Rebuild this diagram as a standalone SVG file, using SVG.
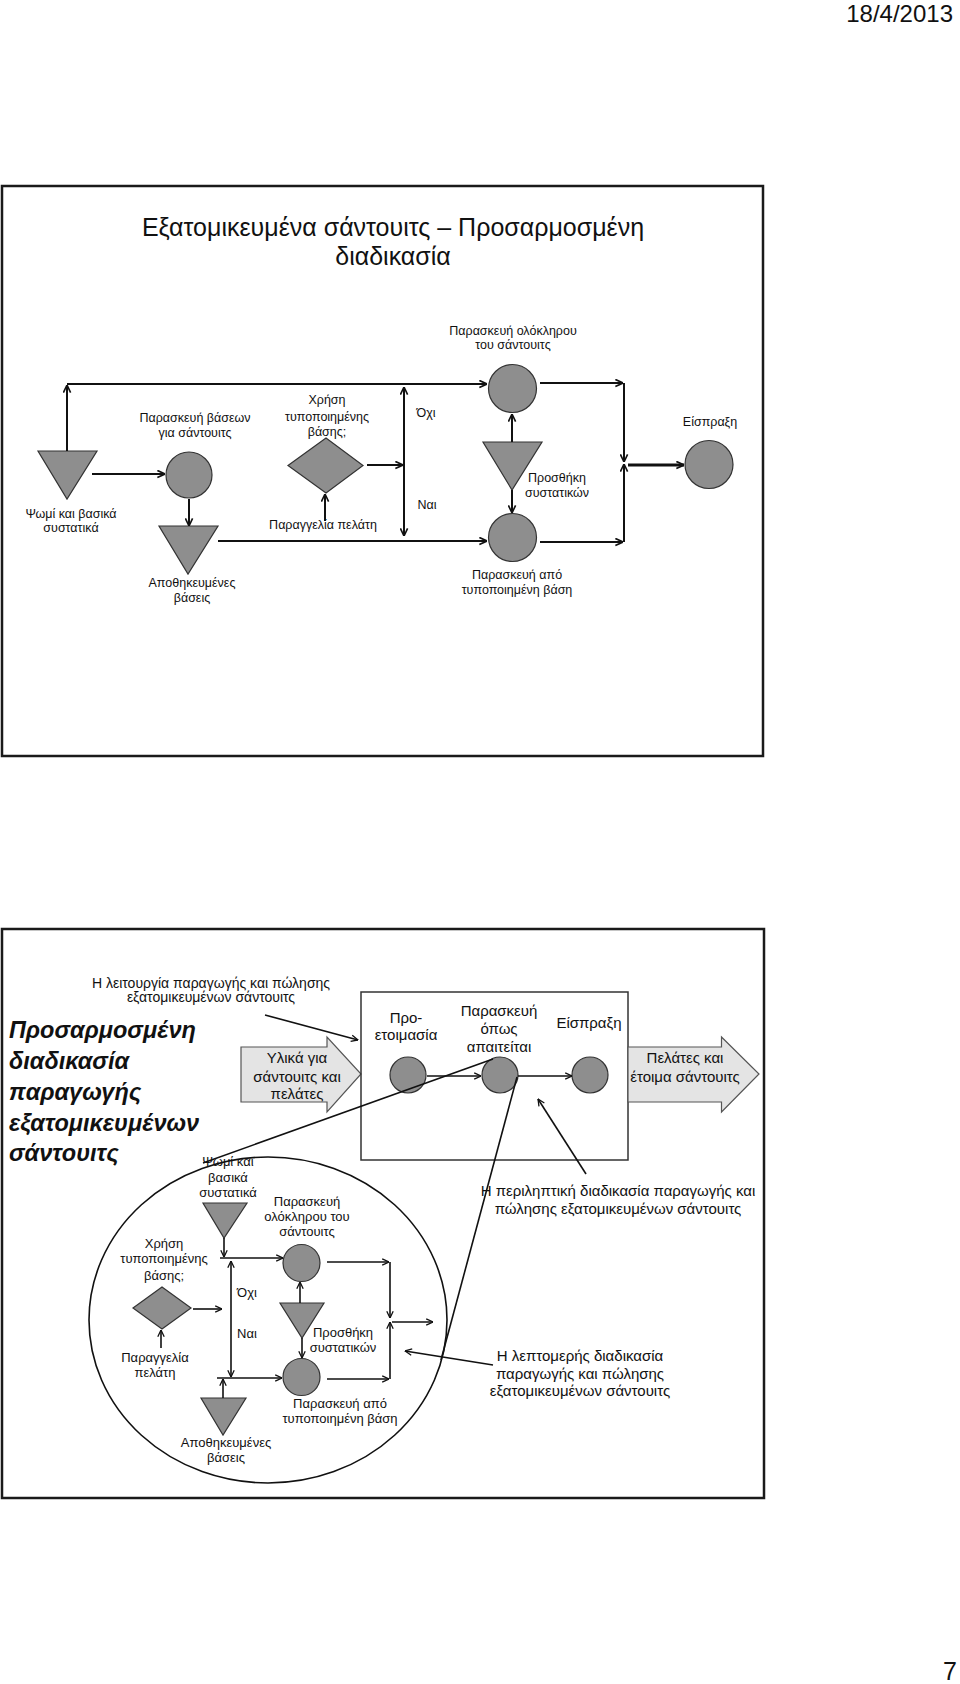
<svg xmlns="http://www.w3.org/2000/svg" width="960" height="1684" viewBox="0 0 960 1684">
<style>
.frame{fill:none;stroke:#1a1a1a;stroke-width:2.5}
.sh{fill:#8e8e8e;stroke:#333;stroke-width:1.2}
.ln{fill:none;stroke:#111;stroke-width:2;marker-end:url(#ar)}
.lb{fill:none;stroke:#111;stroke-width:1.6;marker-end:url(#ab)}
.plain{fill:none;stroke:#111;stroke-width:1.6}
.blk{fill:#e4e4e4;stroke:#555;stroke-width:1.2}
.t{font-family:"Liberation Sans",Arial,sans-serif;font-size:13px;fill:#111;text-anchor:middle;dominant-baseline:central}
.s1{font-size:12.5px}
.t15{font-size:15px}
.t14{font-size:14px}
.ti{font-family:"Liberation Sans",Arial,sans-serif;font-size:23.5px;font-weight:bold;font-style:italic;fill:#111;dominant-baseline:central}
.title{font-family:"Liberation Sans",Arial,sans-serif;font-size:25px;fill:#111;text-anchor:middle;dominant-baseline:central}
</style>
<defs>
<marker id="ar" viewBox="0 0 10 10" refX="9.5" refY="5" markerWidth="9" markerHeight="9" markerUnits="userSpaceOnUse" orient="auto-start-reverse"><path d="M1,1 L9.5,5 L1,9" fill="none" stroke="#111" stroke-width="1.8"/></marker>
<marker id="ab" viewBox="0 0 10 10" refX="9.5" refY="5" markerWidth="8" markerHeight="8" markerUnits="userSpaceOnUse" orient="auto-start-reverse"><path d="M1,1 L9.5,5 L1,9" fill="none" stroke="#111" stroke-width="1.6"/></marker>
</defs>
<rect width="960" height="1684" fill="#fff"/>
<text x="953" y="22" font-family="Liberation Sans,Arial,sans-serif" font-size="24" text-anchor="end" fill="#111">18/4/2013</text>
<text x="957" y="1680" font-family="Liberation Sans,Arial,sans-serif" font-size="25" text-anchor="end" fill="#111">7</text>

<!-- ===== Slide 1 ===== -->
<g id="slide1">
<rect class="frame" x="2" y="186" width="761" height="570"/>
<text class="title" x="393" y="227">Εξατομικευμένα σάντουιτς – Προσαρμοσμένη</text>
<text class="title" x="393" y="256">διαδικασία</text>
</g>
<g id="s1-bread"><polygon class="sh" points="38,451 97,451 67,499"/><text class="t s1" x="71" y="514">Ψωμί και βασικά</text><text class="t s1" x="71" y="528">συστατικά</text></g>
<g id="s1-bases"><circle class="sh" cx="189" cy="475" r="23"/><text class="t s1" x="195" y="418">Παρασκευή βάσεων</text><text class="t s1" x="195" y="433">για σάντουιτς</text></g>
<g id="s1-stored"><polygon class="sh" points="159,526 218,526 188,574"/><text class="t s1" x="192" y="583">Αποθηκευμένες</text><text class="t s1" x="192" y="598">βάσεις</text></g>
<g id="s1-decision"><polygon class="sh" points="288,465.5 326,438 363,465.5 326,493"/><text class="t s1" x="327" y="400">Χρήση</text><text class="t s1" x="327" y="417">τυποποιημένης</text><text class="t s1" x="327" y="432">βάσης;</text></g>
<g id="s1-order"><text class="t s1" x="323" y="525">Παραγγελία πελάτη</text></g>
<g id="s1-labels"><text class="t s1" x="426" y="413">Όχι</text><text class="t s1" x="427" y="505">Ναι</text></g>
<g id="s1-whole"><circle class="sh" cx="512.5" cy="388.5" r="24"/><text class="t s1" x="513" y="331">Παρασκευή ολόκληρου</text><text class="t s1" x="513" y="345">του σάντουιτς</text></g>
<g id="s1-add"><polygon class="sh" points="483,442 542,442 512,490"/><text class="t s1" x="557" y="478">Προσθήκη</text><text class="t s1" x="557" y="493">συστατικών</text></g>
<g id="s1-std"><circle class="sh" cx="512.5" cy="537.5" r="24"/><text class="t s1" x="517" y="575">Παρασκευή από</text><text class="t s1" x="517" y="590">τυποποιημένη βάση</text></g>
<g id="s1-pay"><circle class="sh" cx="709" cy="464.5" r="24"/><text class="t s1" x="710" y="422">Είσπραξη</text></g>
<g id="s1-connectors">
<path class="ln" d="M67,451 V385"/>
<path class="ln" d="M67,384 H487"/>
<path class="ln" d="M92,474 H165"/>
<path class="ln" d="M189,499 V526"/>
<path class="ln" d="M218,541 H487"/>
<path class="ln" d="M367,465 H403"/>
<path class="ln" d="M325,521 V494"/>
<path class="ln" d="M404,387 V536" style="marker-start:url(#ar)"/>
<path class="ln" d="M540,383 H623"/>
<path class="ln" d="M540,542 H623"/>
<path class="ln" d="M624,383 V462"/>
<path class="ln" d="M624,542 V464"/>
<path class="ln" d="M628,465 H684" style="stroke-width:3"/>
<path class="ln" d="M512,442 V414"/>
<path class="ln" d="M512,490 V513"/>
</g>

<!-- ===== Slide 2 ===== -->
<g id="slide2">
<rect class="frame" x="2" y="929" width="762" height="569"/>
<text class="ti" x="9" y="1030">Προσαρμοσμένη</text>
<text class="ti" x="9" y="1061">διαδικασία</text>
<text class="ti" x="9" y="1092">παραγωγής</text>
<text class="ti" x="9" y="1123">εξατομικευμένων</text>
<text class="ti" x="9" y="1153">σάντουιτς</text>
</g>
<g id="s2-caption-top"><text class="t t14" x="211" y="983">Η λειτουργία παραγωγής και πώλησης</text><text class="t t14" x="211" y="997">εξατομικευμένων σάντουιτς</text></g>
<g id="s2-inputs"><path class="blk" d="M241,1047 H327 V1037 L361,1074 L327,1112 V1102 H241 Z"/><text class="t t15" x="297" y="1057">Υλικά για</text><text class="t t15" x="297" y="1076">σάντουιτς και</text><text class="t t15" x="297" y="1093">πελάτες</text></g>
<g id="s2-box"><rect x="361" y="992" width="267" height="168" fill="none" stroke="#333" stroke-width="1.5"/></g>
<g id="s2-prep"><circle class="sh" cx="408" cy="1075" r="18"/><text class="t t15" x="406" y="1017">Προ-</text><text class="t t15" x="406" y="1034">ετοιμασία</text></g>
<g id="s2-make"><circle class="sh" cx="500" cy="1075" r="18"/><text class="t t15" x="499" y="1010">Παρασκευή</text><text class="t t15" x="499" y="1028">όπως</text><text class="t t15" x="499" y="1046">απαιτείται</text></g>
<g id="s2-pay"><circle class="sh" cx="590" cy="1075" r="18"/><text class="t t15" x="589" y="1022">Είσπραξη</text></g>
<g id="s2-outputs"><path class="blk" d="M628,1047 H721.5 V1037 L759,1074 L721.5,1112 V1102 H628 Z"/><text class="t t15" x="685" y="1057">Πελάτες και</text><text class="t t15" x="685" y="1076">έτοιμα σάντουιτς</text></g>
<g id="s2-caption-summary"><text class="t t15" x="618" y="1190">Η περιληπτική διαδικασία παραγωγής και</text><text class="t t15" x="618" y="1208">πώλησης εξατομικευμένων σάντουιτς</text></g>
<g id="s2-caption-detail"><text class="t t15" x="580" y="1355">Η λεπτομερής διαδικασία</text><text class="t t15" x="580" y="1373">παραγωγής και πώλησης</text><text class="t t15" x="580" y="1390">εξατομικευμένων σάντουιτς</text></g>
<g id="s2-detail"><ellipse cx="268" cy="1320" rx="179" ry="163" fill="none" stroke="#111" stroke-width="1.6"/></g>
<g id="s2-bread"><polygon class="sh" points="203,1203 247,1203 224,1238"/><text class="t" x="228" y="1161">Ψωμί και</text><text class="t" x="228" y="1177">βασικά</text><text class="t" x="228" y="1192">συστατικά</text></g>
<g id="s2-whole"><circle class="sh" cx="301.5" cy="1263" r="18.5"/><text class="t" x="307" y="1201">Παρασκευή</text><text class="t" x="307" y="1216">ολόκληρου του</text><text class="t" x="307" y="1231">σάντουιτς</text></g>
<g id="s2-decision"><polygon class="sh" points="133,1308 162,1287 191,1308 162,1329"/><text class="t" x="164" y="1243">Χρήση</text><text class="t" x="164" y="1258">τυποποιημένης</text><text class="t" x="164" y="1275">βάσης;</text></g>
<g id="s2-order"><text class="t" x="155" y="1357">Παραγγελία</text><text class="t" x="155" y="1372">πελάτη</text></g>
<g id="s2-labels"><text class="t" x="247" y="1292">Όχι</text><text class="t" x="247" y="1333">Ναι</text></g>
<g id="s2-add"><polygon class="sh" points="280,1303 324,1303 302,1338"/><text class="t" x="343" y="1332">Προσθήκη</text><text class="t" x="343" y="1347">συστατικών</text></g>
<g id="s2-std"><circle class="sh" cx="301.5" cy="1377" r="18.5"/><text class="t" x="340" y="1403">Παρασκευή από</text><text class="t" x="340" y="1418">τυποποιημένη βάση</text></g>
<g id="s2-stored"><polygon class="sh" points="201,1398 246,1398 223,1435"/><text class="t" x="226" y="1442">Αποθηκευμένες</text><text class="t" x="226" y="1457">βάσεις</text></g>
<g id="s2-connectors">
<path class="lb" d="M265,1015 L358,1040"/>
<path class="lb" d="M427,1076 H481"/>
<path class="lb" d="M518,1076 H572"/>
<path class="lb" d="M586,1174 L538,1099"/>
<path class="lb" d="M493,1365 L405,1351"/>
<path class="lb" d="M224,1238 V1257"/>
<path class="lb" d="M220,1258 H283"/>
<path class="lb" d="M231,1261 V1377" style="marker-start:url(#ab)"/>
<path class="lb" d="M217,1378 H282"/>
<path class="lb" d="M223,1398 V1379"/>
<path class="lb" d="M193,1309 H222"/>
<path class="lb" d="M161,1348 V1330"/>
<path class="lb" d="M300,1303 V1282"/>
<path class="lb" d="M302,1338 V1358"/>
<path class="lb" d="M327,1262 H389"/>
<path class="lb" d="M327,1379 H389"/>
<path class="lb" d="M390,1262 V1318"/>
<path class="lb" d="M390,1379 V1322"/>
<path class="lb" d="M392,1322 H433"/>
<path class="plain" d="M203,1163 L493,1059"/>
<path class="plain" d="M517,1077 L441,1360"/>
</g>
</svg>
